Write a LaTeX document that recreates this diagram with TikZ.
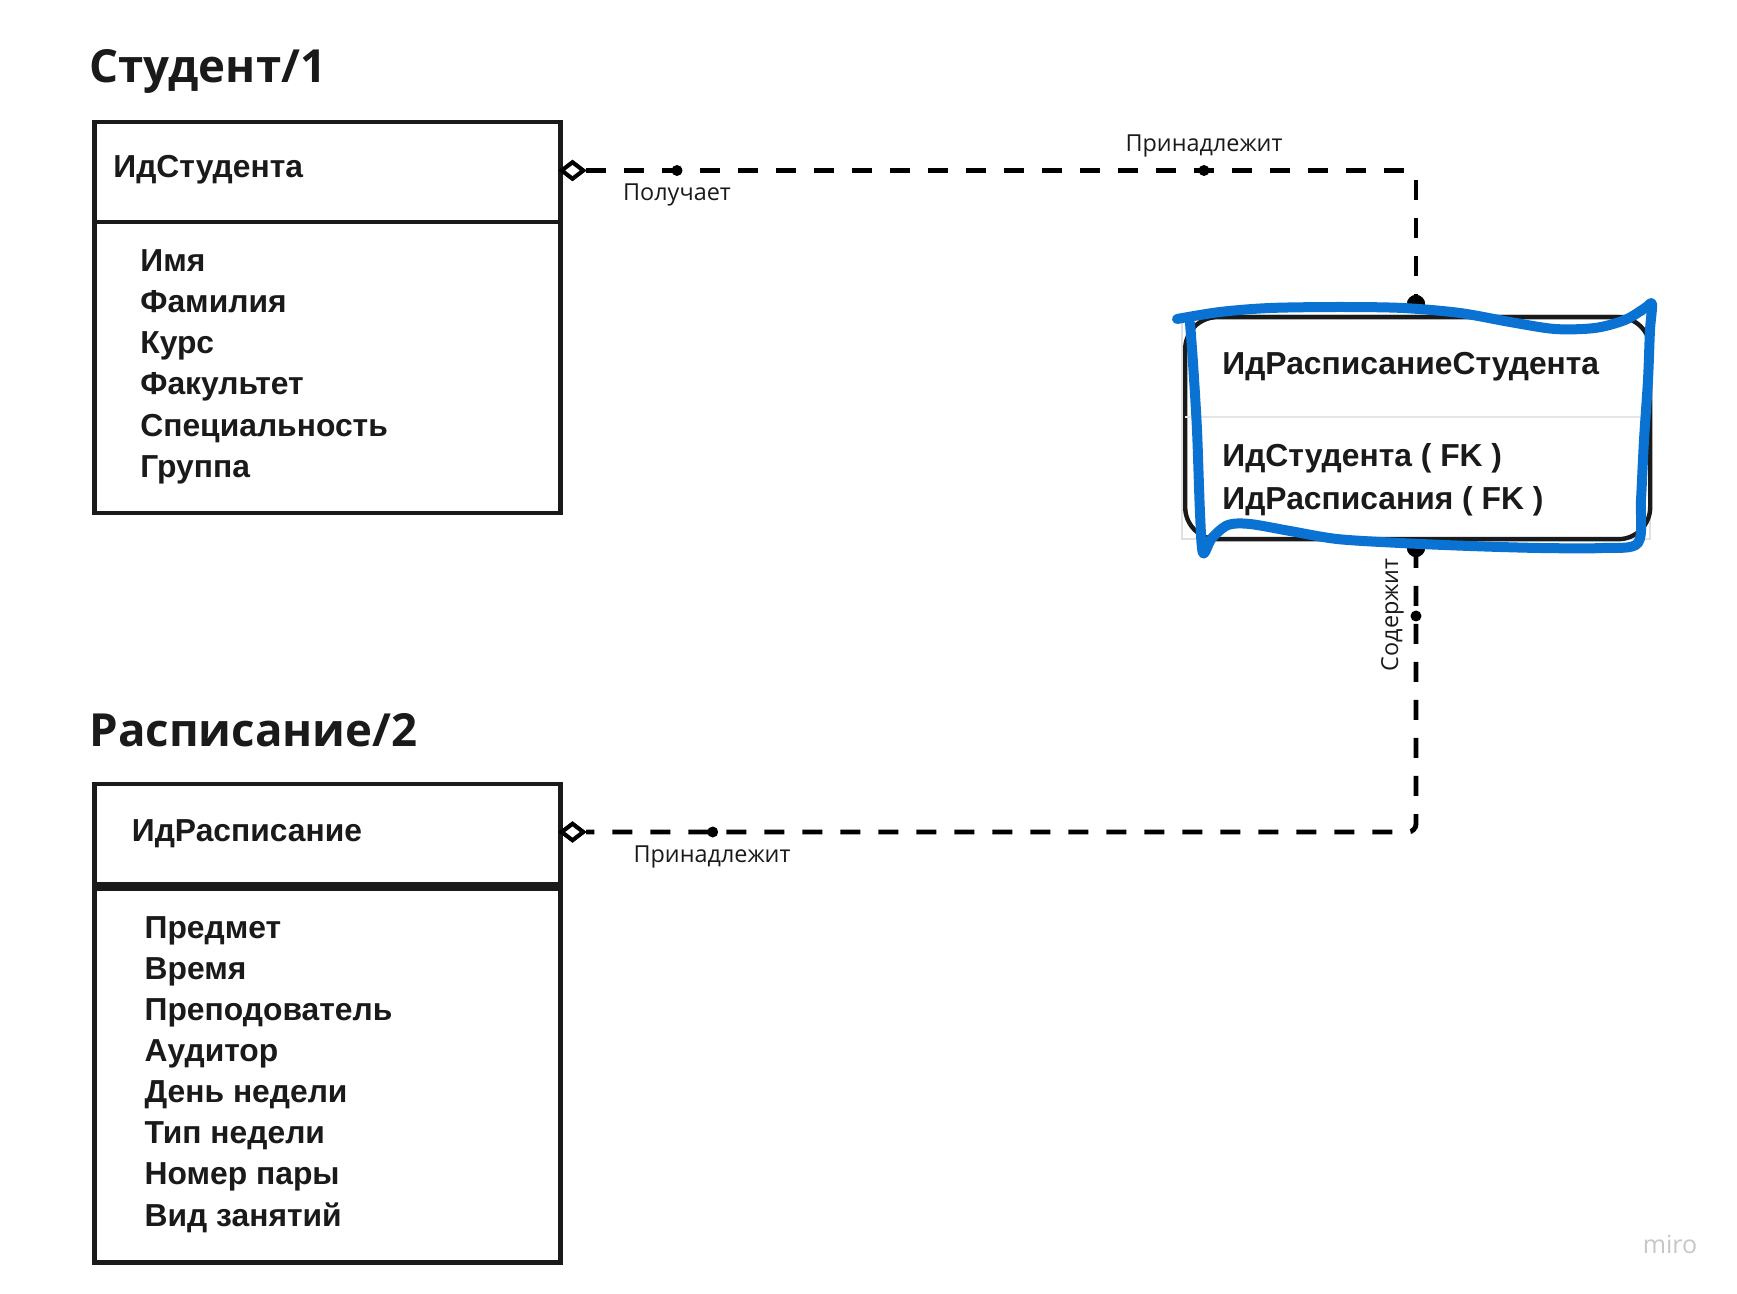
\documentclass[tikz,border=0pt]{standalone}
\usepackage{fontspec}
\setmainfont{Open Sans}
\newfontfamily\entfont{Liberation Sans}
\usetikzlibrary{shapes.geometric}
\definecolor{ink}{RGB}{26,26,26}
\definecolor{scribble}{RGB}{10,114,210}

\tikzset{
  boxline/.style={draw=ink, line width=2.25pt, inner sep=0pt, anchor=north west},
  title/.style={anchor=base west, inner sep=0pt, text=ink,
    font=\fontsize{22.8pt}{27pt}\selectfont\bfseries},
  field/.style={anchor=base west, inner sep=0pt, text=ink,
    font=\entfont\fontsize{15.9pt}{20pt}\selectfont\bfseries},
  rel/.style={draw=black, line width=2.4pt, dash pattern=on 10pt off 9pt,
    rounded corners=4pt},
  optend/.style={diamond, draw=black, fill=white, line width=2pt,
    minimum width=11.5pt, minimum height=9pt, inner sep=0pt},
  enddot/.style={circle, fill=black, minimum size=9pt, inner sep=0pt},
  middot/.style={circle, fill=black, minimum size=5.5pt, inner sep=0pt},
  rellabel/.style={anchor=base, inner sep=0pt, text=ink,
    font=\fontsize{11.7pt}{14pt}\selectfont},
}

\begin{document}
\begin{tikzpicture}[x=0.5pt, y=-0.5pt]
  \useasboundingbox (0,0) rectangle (1737,1294);
  \fill[white] (0,0) rectangle (1737,1294);

  % --- Student entity ---
  \node[title] (stitle) at (89,83) {Студент/1};
  \node[boxline, minimum width=233pt, minimum height=50pt] (shead) at (92,120) {};
  \node[boxline, minimum width=233pt, minimum height=145.5pt] (sbody) at (92,220) {};
  \node[field] (skey) at (113,178) {ИдСтудента};
  \node[field] (sa1) at (140,271.7) {Имя};
  \node[field] (sa2) at (140,312.7) {Фамилия};
  \node[field] (sa3) at (140,353.6) {Курс};
  \node[field] (sa4) at (140,395) {Факультет};
  \node[field] (sa5) at (140,436.5) {Специальность};
  \node[field] (sa6) at (140,478) {Группа};

  % --- Schedule entity ---
  \node[title] (rtitle) at (89,746.7) {Расписание/2};
  \node[boxline, minimum width=233pt, minimum height=50pt] (rhead) at (92,782) {};
  \node[boxline, minimum width=233pt, minimum height=187pt] (rbody) at (92,886) {};
  \node[field] (rkey) at (131.5,841.7) {ИдРасписание};
  \node[field] (ra1) at (144.3,938.3) {Предмет};
  \node[field] (ra2) at (144.3,979.6) {Время};
  \node[field] (ra3) at (144.3,1020.6) {Преподователь};
  \node[field] (ra4) at (144.3,1061.7) {Аудитор};
  \node[field] (ra5) at (144.3,1102.5) {День недели};
  \node[field] (ra6) at (144.3,1143.5) {Тип недели};
  \node[field] (ra7) at (144.3,1184.7) {Номер пары};
  \node[field] (ra8) at (144.3,1226.5) {Вид занятий};

  % --- Link entity ---
  \draw[black!12, line width=0.6pt] (1182,315) rectangle (1650,539);
  \node[draw=ink, line width=2.2pt, rounded corners=16pt, anchor=north west,
        minimum width=232.5pt, minimum height=111pt, inner sep=0pt] (jbox) at (1183,315) {};
  \draw[black!10, line width=1pt] (1185,417) -- (1645,417);
  \node[field] (jkey) at (1222,374.3) {ИдРасписаниеСтудента};
  \node[field] (jf1) at (1222,466.7) {ИдСтудента ( FK )};
  \node[field] (jf2) at (1222,509.3) {ИдРасписания ( FK )};

  % --- relationship ends ---
  \node[optend] (d1) at (572.5,170.5) {};
  \node[optend] (d2) at (572.5,832) {};
  \node[enddot] (e1) at (1416,304) {};
  \node[enddot] (e2) at (1416,548) {};

  % --- relationships ---
  \draw[rel] (d1.east) -| (e1.center);
  \draw[rel] (e2.center) |- (d2.east);
  \node[optend] at (d1) {};
  \node[optend] at (d2) {};
  \node[enddot] at (e1) {};
  \node[enddot] at (e2) {};

  % label markers on the lines
  \node[middot] (m1) at (677,170.5) {};
  \node[middot] (m2) at (1204,170.5) {};
  \node[middot] (m3) at (1416,616) {};
  \node[middot] (m4) at (712.7,832) {};

  \node[rellabel] (l1) at (677,201) {Получает};
  \node[rellabel] (l2) at (1204,152) {Принадлежит};
  \node[rellabel, rotate=90] (l3) at (1398,615) {Содержит};
  \node[rellabel] (l4) at (712,863) {Принадлежит};

  % --- hand-drawn highlight around the link entity ---
  \draw[scribble, line width=5pt, line cap=round, line join=round]
    plot[smooth, tension=0.5] coordinates {
      (1177,319) (1220,312) (1270,308) (1340,307) (1403,308) (1460,313)
      (1510,322) (1555,329) (1595,328) (1625,320) (1645,308) (1652,304)
      (1650,330) (1648,380) (1644,440) (1641,500) (1638,543)
      (1603,548) (1540,548) (1470,546) (1400,543) (1337,539) (1290,531)
      (1250,524) (1228,525) (1212,538) (1203,553)
      (1200,513) (1197,430) (1193,363) (1190,323)
    };

  % --- watermark ---
  \node[anchor=base, inner sep=0pt, text=black!22,
        font=\fontsize{12.5pt}{15pt}\selectfont] (wm) at (1670,1253) {miro};
\end{tikzpicture}
\end{document}
